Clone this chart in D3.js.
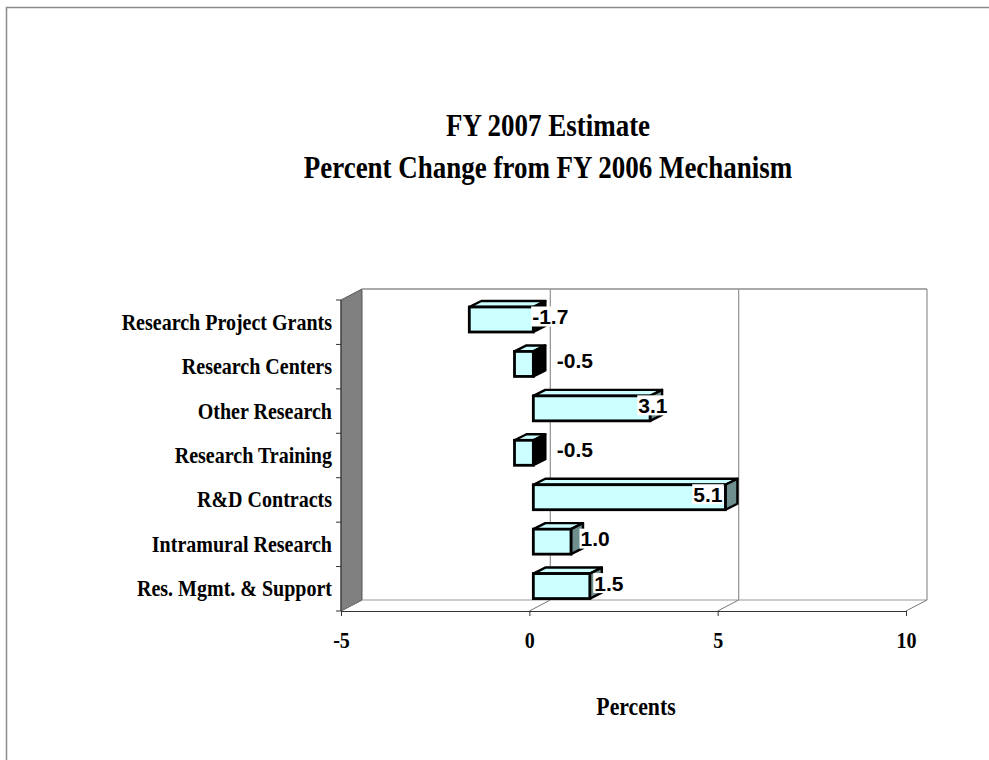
<!DOCTYPE html>
<html>
<head>
<meta charset="utf-8">
<script src="https://cdn.jsdelivr.net/npm/d3@7"></script>
<style>
  html, body { margin: 0; padding: 0; background: #fff; }
  svg { display: block; }
</style>
</head>
<body>
<svg id="chart" width="989" height="760"></svg>
<script>
// ---------- data ----------
const categories = ["Research Project Grants", "Research Centers", "Other Research",
  "Research Training", "R&D Contracts", "Intramural Research", "Res. Mgmt. & Support"];
const values = [-1.7, -0.5, 3.1, -0.5, 5.1, 1.0, 1.5];
const valueLabels = ["-1.7", "-0.5", "3.1", "-0.5", "5.1", "1.0", "1.5"];
const tickValues = [-5, 0, 5, 10];
const titleLines = ["FY 2007 Estimate", "Percent Change from FY 2006 Mechanism"];
const axisTitle = "Percents";

// ---------- layout ----------
const svg = d3.select("#chart");
const plot = { left: 341, right: 906, top: 300, bottom: 611 };
const depth = { dx: 21, dy: -11 };        // depth of 3D box
const barDepth = { dx: 12, dy: -6 };       // depth of each bar
const barShift = 4;                         // bar front face offset from front plane
const serif = "'Liberation Serif', 'Times New Roman', serif";
const sans = "'Liberation Sans', Arial, sans-serif";
const condense = 0.87;

const x = d3.scaleLinear().domain([-5, 10]).range([plot.left, plot.right]);
const y = d3.scaleBand().domain(categories).range([plot.top, plot.bottom]);

// label placement scales (as in original rendering)
const labelPos = d3.scaleLinear().domain([0, 5]).range([553, 690.5]);
const labelNeg = d3.scaleLinear().domain([-2, 0]).range([526, 567]);

// outer frame
svg.append("rect").attr("x", 6.5).attr("y", 7.5).attr("width", 1000).attr("height", 800)
  .attr("fill", "none").attr("stroke", "#8a8a8a").attr("stroke-width", 1.5);

function ctext(g, str, tx, ty, size, anchor, sx, family, weight) {
  return g.append("text")
    .attr("transform", `translate(${tx},${ty}) scale(${sx},1)`)
    .attr("text-anchor", anchor)
    .attr("font-family", family)
    .attr("font-weight", weight || "bold")
    .attr("font-size", size)
    .attr("fill", "#000")
    .text(str);
}

// ---------- title ----------
const tg = svg.append("g");
ctext(tg, titleLines[0], 548, 136, 31, "middle", condense, serif);
ctext(tg, titleLines[1], 548, 178, 31, "middle", condense, serif);

// ---------- 3D box ----------
const box = svg.append("g");
const [x0, x1] = x.range();
const yb = plot.bottom, yt = plot.top;
// left wall
box.append("polygon")
  .attr("points", [[x0, yt], [x0 + depth.dx, yt + depth.dy], [x0 + depth.dx, yb + depth.dy], [x0, yb]].join(" "))
  .attr("fill", "#808080").attr("stroke", "#555").attr("stroke-width", 1);
// back wall top edge
box.append("line").attr("x1", x0 + depth.dx).attr("x2", x1 + depth.dx)
  .attr("y1", yt + depth.dy).attr("y2", yt + depth.dy)
  .attr("stroke", "#aaa").attr("stroke-width", 2);
// back grid verticals
box.selectAll("line.grid").data(tickValues.slice(1)).join("line").attr("class", "grid")
  .attr("x1", d => x(d) + depth.dx).attr("x2", d => x(d) + depth.dx)
  .attr("y1", yt + depth.dy).attr("y2", yb + depth.dy)
  .attr("stroke", "#999").attr("stroke-width", 1.3);
// floor back line
box.append("line").attr("x1", x0 + depth.dx).attr("x2", x1 + depth.dx)
  .attr("y1", yb + depth.dy).attr("y2", yb + depth.dy)
  .attr("stroke", "#999").attr("stroke-width", 1);
// floor diagonals
box.selectAll("line.diag").data(tickValues).join("line").attr("class", "diag")
  .attr("x1", d => x(d)).attr("x2", d => x(d) + depth.dx)
  .attr("y1", yb).attr("y2", yb + depth.dy)
  .attr("stroke", "#777").attr("stroke-width", 1);

// front x axis
const xAxis = d3.axisBottom(x).tickValues(tickValues).tickSize(5).tickSizeOuter(0);
const xg = svg.append("g").attr("transform", `translate(0,${yb})`).call(xAxis);
xg.select(".domain").attr("stroke", "#333").attr("stroke-width", 1);
xg.selectAll(".tick line").attr("stroke", "#333");
xg.selectAll(".tick text")
  .attr("y", 0).attr("dy", 0)
  .attr("transform", `translate(0,37) scale(${condense},1)`)
  .attr("font-family", serif).attr("font-weight", "bold").attr("font-size", 23).attr("fill", "#000")
  .text(d => String(d));

// left axis line & ticks at band boundaries
const lg = svg.append("g");
lg.append("line").attr("x1", x0).attr("x2", x0).attr("y1", yt).attr("y2", yb)
  .attr("stroke", "#333").attr("stroke-width", 1);
const bounds = categories.map(c => y(c)).concat([yb]);
lg.selectAll("line.tk").data(bounds).join("line").attr("class", "tk")
  .attr("x1", x0 - 5).attr("x2", x0).attr("y1", d => d).attr("y2", d => d)
  .attr("stroke", "#333").attr("stroke-width", 1);
// category labels
categories.forEach(c => {
  ctext(lg, c, 332, y(c) + y.bandwidth() / 2 + 7.5, 23, "end", condense, serif);
});

// ---------- bars ----------
const bars = svg.append("g");
const barTopOff = 7, barH = 25;
const bd = barDepth;
values.forEach((v, i) => {
  const c = categories[i];
  const xa = x(Math.min(0, v)) + barShift;
  const xz = x(Math.max(0, v)) + barShift;
  const ya = y(c) + barTopOff;
  const g = bars.append("g");
  // top face
  g.append("polygon")
    .attr("points", [[xa, ya], [xa + bd.dx, ya + bd.dy], [xz + bd.dx, ya + bd.dy], [xz, ya]].join(" "))
    .attr("fill", "#CCFFFF").attr("stroke", "#000").attr("stroke-width", 2.4).attr("stroke-linejoin", "round");
  // right side face
  g.append("polygon")
    .attr("points", [[xz, ya], [xz + bd.dx, ya + bd.dy], [xz + bd.dx, ya + barH + bd.dy], [xz, ya + barH]].join(" "))
    .attr("fill", v >= 0 ? "#6F8F8F" : "#000").attr("stroke", "#000").attr("stroke-width", 2.4).attr("stroke-linejoin", "round");
  // front face
  g.append("rect").attr("x", xa).attr("y", ya).attr("width", xz - xa).attr("height", barH)
    .attr("fill", "#CCFFFF").attr("stroke", "#000").attr("stroke-width", 2.8);
});

// ---------- value labels ----------
const labs = svg.append("g");
values.forEach((v, i) => {
  const c = categories[i];
  const lx = v >= 0 ? labelPos(v) : labelNeg(v);
  const cy = y(c) + barTopOff + barH / 2 - 3;
  const t = labs.append("text")
    .attr("x", lx).attr("y", cy + 7.5)
    .attr("font-family", sans).attr("font-weight", "bold").attr("font-size", 21)
    .attr("fill", "#000").text(valueLabels[i]);
  const bb = t.node().getBBox();
  labs.insert("rect", () => t.node())
    .attr("x", bb.x - 1).attr("y", cy - 10).attr("width", bb.width + 2).attr("height", 20)
    .attr("fill", "#fff");
});

// ---------- axis title ----------
ctext(svg, axisTitle, 636, 715, 25, "middle", condense, serif);
</script>
</body>
</html>
